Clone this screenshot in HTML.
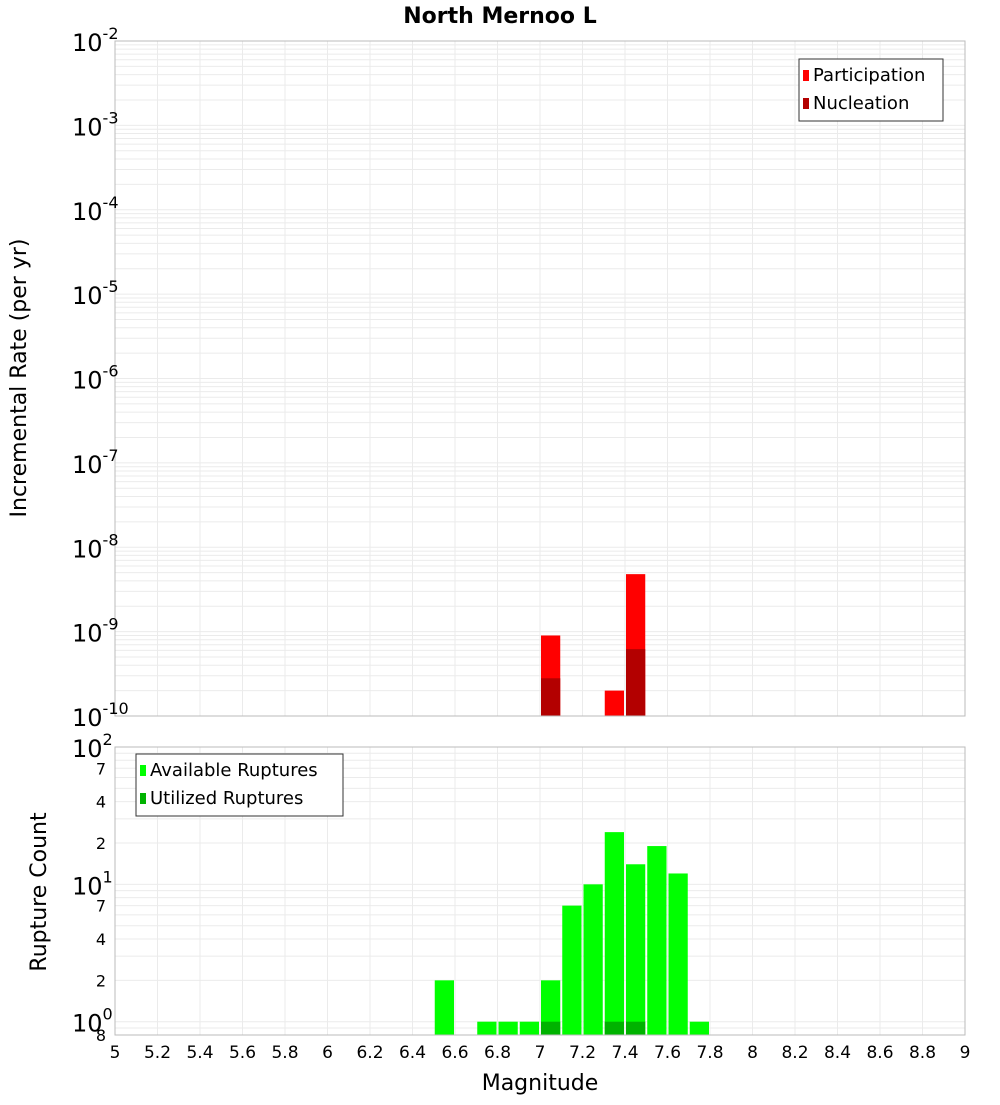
<!DOCTYPE html>
<html><head><meta charset="utf-8"><style>
body{margin:0;background:#fff;font-family:"Liberation Sans","DejaVu Sans",sans-serif}
svg text{font-family:"DejaVu Sans","Liberation Sans",sans-serif}
</style></head><body>
<svg id="c" width="1000" height="1100" xmlns="http://www.w3.org/2000/svg"></svg>
<script>
const binCenters=[7.05,7.35,7.45];
const participation=[9e-10,2e-10,4.8e-9];
const nucleation=[2.8e-10,0,6.2e-10];
const countBins=[6.55,6.75,6.85,6.95,7.05,7.15,7.25,7.35,7.45,7.55,7.65,7.75];
const available=[2,1,1,1,2,7,10,24,14,19,12,1];
const utilizedBins=[7.05,7.35,7.45];
const utilized=[1,1,1];
const xTicks=[5,5.2,5.4,5.6,5.8,6,6.2,6.4,6.6,6.8,7,7.2,7.4,7.6,7.8,8,8.2,8.4,8.6,8.8,9];
const topExps=[-2,-3,-4,-5,-6,-7,-8,-9,-10];
const botTicks=[[100,'10','2'],[70,'7'],[40,'4'],[20,'2'],[10,'10','1'],[7,'7'],[4,'4'],[2,'2'],[1,'10','0'],[0.8,'8']];

const S=document.getElementById('c'),NS='http://www.w3.org/2000/svg';
function el(t,a,txt,p){const e=document.createElementNS(NS,t);for(const k in a)e.setAttribute(k,a[k]);if(txt!=null)e.textContent=txt;(p||S).appendChild(e);return e;}
const L=115,R=965;
const X=v=>L+(v-5)/4*(R-L);
const T0=41,T1=716;
const YT=v=>T0+(-2-Math.log10(v))/8*(T1-T0);
const B0=747,B1=1035;
const YB=v=>B0+(2-Math.log10(v))/(2-Math.log10(0.8))*(B1-B0);
const bw=0.1*(R-L)/4;

// top grid
const gt=el('g',{});
for(let e=-10;e<-2;e++)for(let m=1;m<10;m++){const y=YT(m*Math.pow(10,e));el('line',{x1:L,x2:R,y1:y,y2:y,stroke:'#ebebeb'},null,gt);}
for(const t of xTicks){el('line',{x1:X(t),x2:X(t),y1:T0,y2:T1,stroke:'#ebebeb'},null,gt);}
// bottom grid
const gb=el('g',{});
for(let e=-1;e<2;e++)for(let m=1;m<10;m++){const v=m*Math.pow(10,e);if(v<0.8)continue;const y=YB(v);el('line',{x1:L,x2:R,y1:y,y2:y,stroke:'#ebebeb'},null,gb);}
for(const t of xTicks){el('line',{x1:X(t),x2:X(t),y1:B0,y2:B1,stroke:'#ebebeb'},null,gb);}

// top bars
binCenters.forEach((c,i)=>{
 const x=X(c-0.05)+1;
 const p=el('rect',{x:x,y:YT(participation[i]),width:bw-2,height:T1-YT(participation[i]),fill:'#ff0000'});
 
 if(nucleation[i]>0){const n=el('rect',{x:x,y:YT(nucleation[i]),width:bw-2,height:T1-YT(nucleation[i]),fill:'#b30000'});
 }
});
// bottom bars
countBins.forEach((c,i)=>{
 const r=el('rect',{x:X(c-0.05)+1,y:YB(available[i]),width:bw-2,height:B1-YB(available[i]),fill:'#00ff00'});
 
});
utilizedBins.forEach((c,i)=>{
 const r=el('rect',{x:X(c-0.05)+1,y:YB(utilized[i]),width:bw-2,height:B1-YB(utilized[i]),fill:'#00b300'});
 
});

// frames
el('rect',{x:L,y:T0,width:R-L,height:T1-T0,fill:'none',stroke:'#bbb'});
el('rect',{x:L,y:B0,width:R-L,height:B1-B0,fill:'none',stroke:'#bbb'});

// title
const ti=el('text',{x:500,y:23,'text-anchor':'middle','font-size':22,'font-weight':'bold'},'North Mernoo L');


// top y labels
topExps.forEach(e=>{
 const y=YT(Math.pow(10,e));
 const t=el('text',{x:72,y:y+10,'font-size':24});
 
 el('tspan',{},'10',t);el('tspan',{dy:-12,'font-size':16},String(e),t);
});
const yt=el('text',{x:26,y:378,'font-size':22,'text-anchor':'middle',transform:'rotate(-90 26 378)'},'Incremental Rate (per yr)');


// bottom y labels
botTicks.forEach(b=>{
 const y=YB(b[0]);
 if(b.length===3){const t=el('text',{x:72,y:y+10,'font-size':24});
  
  el('tspan',{},b[1],t);el('tspan',{dy:-12,'font-size':16},b[2],t);}
 else{const t=el('text',{x:106,y:y+6,'font-size':16,'text-anchor':'end'},b[1]);
  }
});
const yb=el('text',{x:46,y:892,'font-size':22,'text-anchor':'middle',transform:'rotate(-90 46 892)'},'Rupture Count');


// x labels
xTicks.forEach(t=>{
 const tx=el('text',{x:X(t),y:1058,'font-size':17,'text-anchor':'middle'},String(t));
 
});
const xt=el('text',{x:540,y:1090,'font-size':22,'text-anchor':'middle'},'Magnitude');


// legends
function legend(x,y,w,items,name){
 const g=el('g',{});
 el('rect',{x:x,y:y,width:w,height:items.length*28+6,fill:'#fff',stroke:'#333'},null,g);
 items.forEach((it,i)=>{
  el('rect',{x:x+4,y:y+11+i*28,width:6,height:11,fill:it[1]},null,g);
  el('text',{x:x+14,y:y+22+i*28,'font-size':18},it[0],g);
 });
}
legend(799,59,144,[['Participation','#ff0000'],['Nucleation','#b30000']],'top-legend');
legend(136,754,207,[['Available Ruptures','#00ff00'],['Utilized Ruptures','#00b300']],'bottom-legend');
</script>
</body></html>
